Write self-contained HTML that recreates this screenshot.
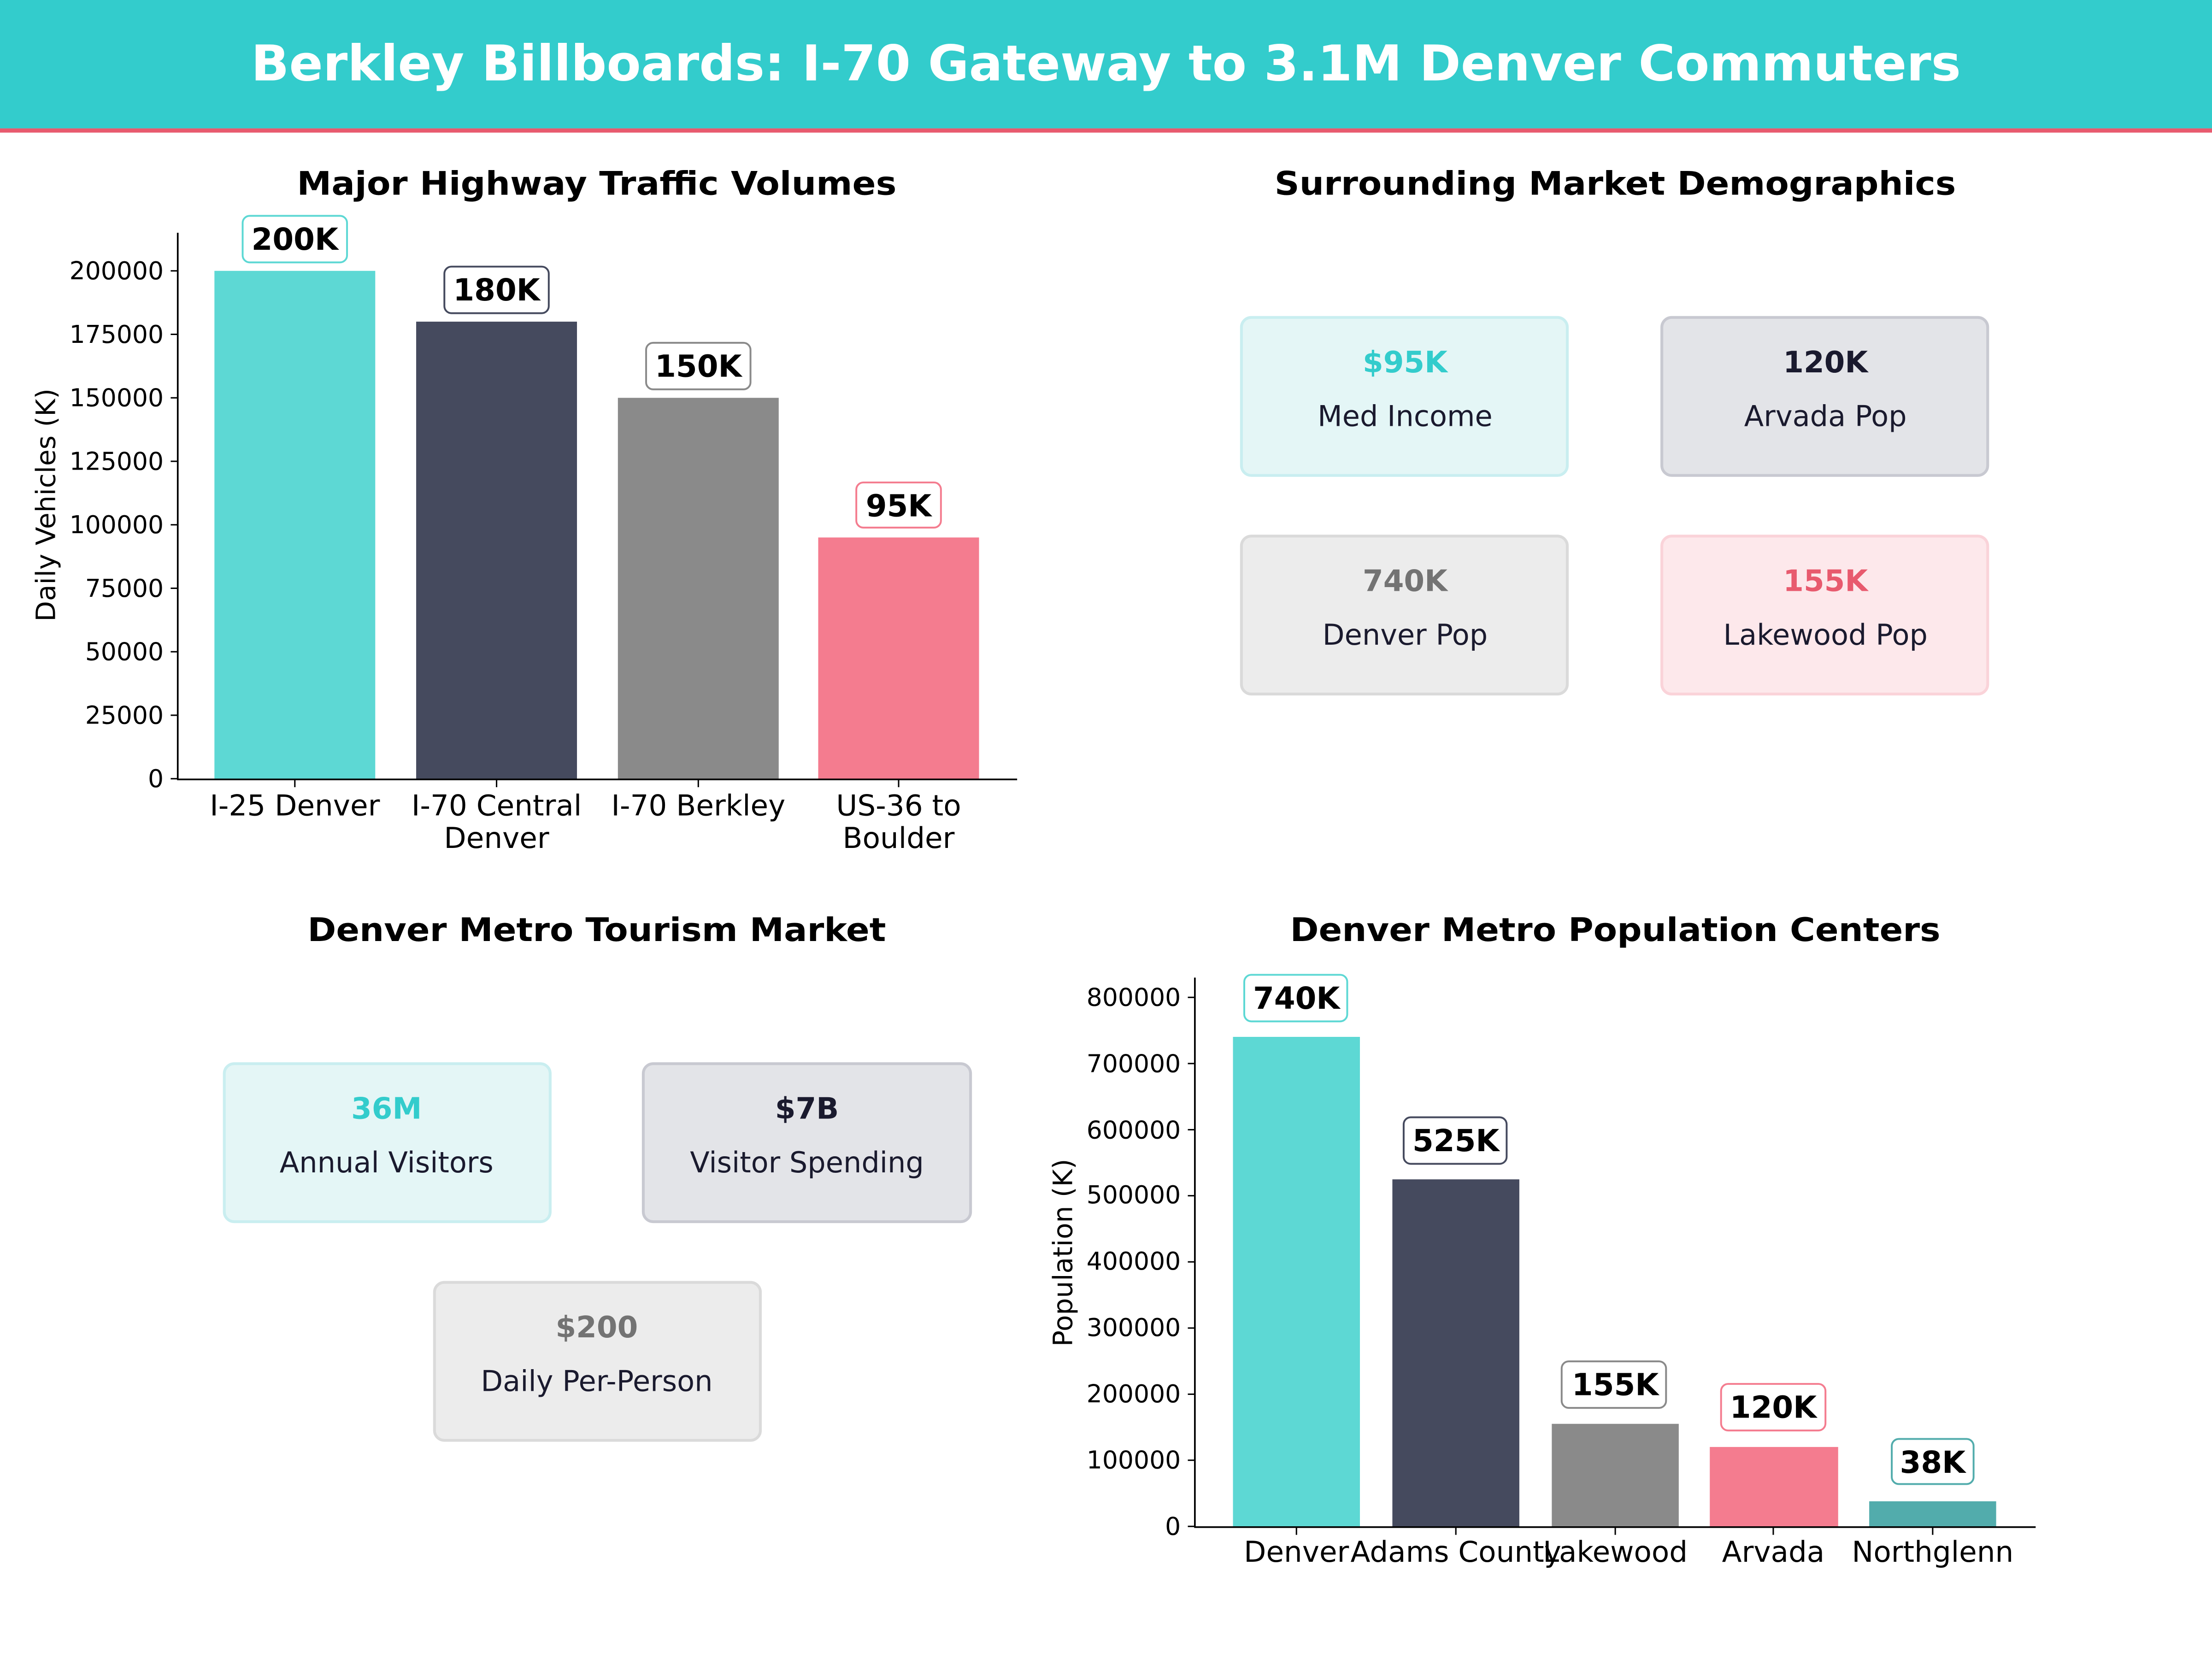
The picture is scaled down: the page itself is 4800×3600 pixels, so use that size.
<!DOCTYPE html>
<html><head><meta charset="utf-8"><style>
html,body{margin:0;padding:0;background:#fff}
svg{display:block}
text{font-family:"DejaVu Sans","Liberation Sans",sans-serif;fill:#000}
.b{font-weight:bold}
</style></head><body>
<svg width="4800" height="3600" viewBox="0 0 1568 1176" xmlns="http://www.w3.org/2000/svg">
<rect width="1568" height="1176" fill="#fff"/>
<rect width="1568" height="91" fill="#33cccc"/>
<rect y="91" width="1568" height="3" fill="#e85a6e"/>
<text x="784" y="57" text-anchor="middle" style="font-size:35px;fill:#fff" font-weight="bold" textLength="1212" lengthAdjust="spacingAndGlyphs">Berkley Billboards: I-70 Gateway to 3.1M Denver Commuters</text>

<!-- Chart 1 -->
<text x="423" y="138" text-anchor="middle" style="font-size:23px" class="b" textLength="425" lengthAdjust="spacingAndGlyphs">Major Highway Traffic Volumes</text>
<rect x="152" y="192" width="114" height="360" fill="#5dd8d4"/>
<rect x="295" y="228" width="114" height="324" fill="#454a5e"/>
<rect x="438" y="282" width="114" height="270" fill="#8a8a8a"/>
<rect x="580" y="381" width="114" height="171" fill="#f47c8f"/>
<line x1="126" y1="165" x2="126" y2="552.5" stroke="#000" stroke-width="1.2"/>
<line x1="125.5" y1="552.5" x2="721" y2="552.5" stroke="#000" stroke-width="1.2"/>
<g stroke="#000" stroke-width="1"><line x1="121" x2="126" y1="552" y2="552"/><line x1="121" x2="126" y1="507" y2="507"/><line x1="121" x2="126" y1="462" y2="462"/><line x1="121" x2="126" y1="417" y2="417"/><line x1="121" x2="126" y1="372" y2="372"/><line x1="121" x2="126" y1="327" y2="327"/><line x1="121" x2="126" y1="282" y2="282"/><line x1="121" x2="126" y1="237" y2="237"/><line x1="121" x2="126" y1="192" y2="192"/>
<line x1="209" x2="209" y1="553" y2="558"/><line x1="352" x2="352" y1="553" y2="558"/><line x1="495" x2="495" y1="553" y2="558"/><line x1="637" x2="637" y1="553" y2="558"/></g>
<g text-anchor="end" style="font-size:17.5px">
<text x="116" y="558">0</text><text x="116" y="513">25000</text><text x="116" y="468">50000</text><text x="116" y="423">75000</text><text x="116" y="378">100000</text><text x="116" y="333">125000</text><text x="116" y="288">150000</text><text x="116" y="243">175000</text><text x="116" y="198">200000</text>
</g>
<g text-anchor="middle" style="font-size:20.5px">
<text x="209" y="578">I-25 Denver</text><text x="352" y="578">I-70 Central</text><text x="352" y="601">Denver</text><text x="495" y="578">I-70 Berkley</text><text x="637" y="578">US-36 to</text><text x="637" y="601">Boulder</text>
</g>
<text transform="translate(39,358) rotate(-90)" text-anchor="middle" style="font-size:19px">Daily Vehicles (K)</text>
<g class="b" text-anchor="middle" style="font-size:21.5px">
<rect x="172" y="153" width="74" height="33" rx="5" fill="#fff" stroke="#5dd8d4" stroke-width="1.3"/><text x="209" y="177">200K</text>
<rect x="315" y="189" width="74" height="33" rx="5" fill="#fff" stroke="#454a5e" stroke-width="1.3"/><text x="352" y="213">180K</text>
<rect x="458" y="243" width="74" height="33" rx="5" fill="#fff" stroke="#8a8a8a" stroke-width="1.3"/><text x="495" y="267">150K</text>
<rect x="607" y="342" width="60" height="32" rx="5" fill="#fff" stroke="#f47c8f" stroke-width="1.3"/><text x="637" y="366">95K</text>
</g>

<!-- Demographics -->
<text x="1145" y="138" text-anchor="middle" style="font-size:23px" class="b" textLength="483" lengthAdjust="spacingAndGlyphs">Surrounding Market Demographics</text>
<g text-anchor="middle">
<rect x="880" y="225" width="231" height="112" rx="7" fill="#e4f6f6" stroke="#c9eef0" stroke-width="2"/>
<text x="996" y="264" style="font-size:21px;fill:#33cccc" class="b">$95K</text><text x="996" y="302" style="font-size:20.3px;fill:#1a1a2e">Med Income</text>
<rect x="1178" y="225" width="231" height="112" rx="7" fill="#e3e4e8" stroke="#c8c9d1" stroke-width="2"/>
<text x="1294" y="264" style="font-size:21px;fill:#1a1a2e" class="b">120K</text><text x="1294" y="302" style="font-size:20.3px;fill:#1a1a2e">Arvada Pop</text>
<rect x="880" y="380" width="231" height="112" rx="7" fill="#ececec" stroke="#dadada" stroke-width="2"/>
<text x="996" y="419" style="font-size:21px;fill:#737373" class="b">740K</text><text x="996" y="457" style="font-size:20.3px;fill:#1a1a2e">Denver Pop</text>
<rect x="1178" y="380" width="231" height="112" rx="7" fill="#fde8eb" stroke="#fad3d9" stroke-width="2"/>
<text x="1294" y="419" style="font-size:21px;fill:#e85a6e" class="b">155K</text><text x="1294" y="457" style="font-size:20.3px;fill:#1a1a2e">Lakewood Pop</text>
</g>

<!-- Tourism -->
<text x="423" y="667" text-anchor="middle" style="font-size:23px" class="b" textLength="410" lengthAdjust="spacingAndGlyphs">Denver Metro Tourism Market</text>
<g text-anchor="middle">
<rect x="159" y="754" width="231" height="112" rx="7" fill="#e4f6f6" stroke="#c9eef0" stroke-width="2"/>
<text x="274" y="793" style="font-size:21px;fill:#33cccc" class="b">36M</text><text x="274" y="831" style="font-size:20.3px;fill:#1a1a2e">Annual Visitors</text>
<rect x="456" y="754" width="232" height="112" rx="7" fill="#e3e4e8" stroke="#c8c9d1" stroke-width="2"/>
<text x="572" y="793" style="font-size:21px;fill:#1a1a2e" class="b">$7B</text><text x="572" y="831" style="font-size:20.3px;fill:#1a1a2e">Visitor Spending</text>
<rect x="308" y="909" width="231" height="112" rx="7" fill="#ececec" stroke="#dadada" stroke-width="2"/>
<text x="423" y="948" style="font-size:21px;fill:#737373" class="b">$200</text><text x="423" y="986" style="font-size:20.3px;fill:#1a1a2e">Daily Per-Person</text>
</g>

<!-- Chart 4 -->
<text x="1145" y="667" text-anchor="middle" style="font-size:23px" class="b" textLength="461" lengthAdjust="spacingAndGlyphs">Denver Metro Population Centers</text>
<rect x="874" y="735" width="90" height="347" fill="#5dd8d4"/>
<rect x="987" y="836" width="90" height="246" fill="#454a5e"/>
<rect x="1100" y="1009.3" width="90" height="72.7" fill="#8a8a8a"/>
<rect x="1212" y="1025.7" width="91" height="56.3" fill="#f47c8f"/>
<rect x="1325" y="1064.2" width="90" height="17.8" fill="#52acac"/>
<line x1="847" y1="693" x2="847" y2="1082.5" stroke="#000" stroke-width="1.2"/>
<line x1="846.5" y1="1082.5" x2="1443" y2="1082.5" stroke="#000" stroke-width="1.2"/>
<g stroke="#000" stroke-width="1">
<line x1="842" x2="847" y1="1082" y2="1082"/><line x1="842" x2="847" y1="1035.1" y2="1035.1"/><line x1="842" x2="847" y1="988.3" y2="988.3"/><line x1="842" x2="847" y1="941.4" y2="941.4"/><line x1="842" x2="847" y1="894.5" y2="894.5"/><line x1="842" x2="847" y1="847.6" y2="847.6"/><line x1="842" x2="847" y1="800.8" y2="800.8"/><line x1="842" x2="847" y1="753.9" y2="753.9"/><line x1="842" x2="847" y1="707" y2="707"/>
<line x1="919" x2="919" y1="1083" y2="1088"/><line x1="1032" x2="1032" y1="1083" y2="1088"/><line x1="1145" x2="1145" y1="1083" y2="1088"/><line x1="1257" x2="1257" y1="1083" y2="1088"/><line x1="1370" x2="1370" y1="1083" y2="1088"/>
</g>
<g text-anchor="end" style="font-size:17.5px">
<text x="837" y="1088">0</text><text x="837" y="1041">100000</text><text x="837" y="994">200000</text><text x="837" y="947">300000</text><text x="837" y="900">400000</text><text x="837" y="853">500000</text><text x="837" y="807">600000</text><text x="837" y="760">700000</text><text x="837" y="713">800000</text>
</g>
<g text-anchor="middle" style="font-size:20.5px">
<text x="919" y="1107">Denver</text><text x="1032" y="1107">Adams County</text><text x="1145" y="1107">Lakewood</text><text x="1257" y="1107">Arvada</text><text x="1370" y="1107">Northglenn</text>
</g>
<text transform="translate(760,888) rotate(-90)" text-anchor="middle" style="font-size:19px">Population (K)</text>
<g class="b" text-anchor="middle" style="font-size:21.5px">
<rect x="882" y="691" width="73" height="33" rx="5" fill="#fff" stroke="#5dd8d4" stroke-width="1.3"/><text x="919" y="715">740K</text>
<rect x="995" y="792" width="73" height="33" rx="5" fill="#fff" stroke="#454a5e" stroke-width="1.3"/><text x="1032" y="816">525K</text>
<rect x="1107" y="965" width="74" height="33" rx="5" fill="#fff" stroke="#8a8a8a" stroke-width="1.3"/><text x="1145" y="989">155K</text>
<rect x="1220" y="981" width="74" height="33" rx="5" fill="#fff" stroke="#f47c8f" stroke-width="1.3"/><text x="1257" y="1005">120K</text>
<rect x="1341" y="1020" width="58" height="32" rx="5" fill="#fff" stroke="#52acac" stroke-width="1.3"/><text x="1370" y="1044">38K</text>
</g>
</svg>
</body></html>
